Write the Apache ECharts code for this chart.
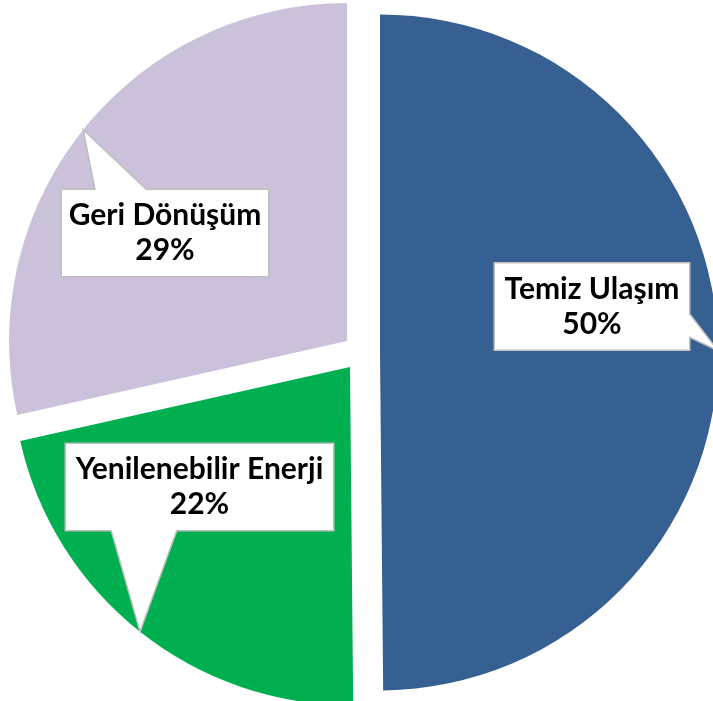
<!DOCTYPE html>
<html>
<head>
<meta charset="utf-8">
<script src="https://cdn.jsdelivr.net/npm/echarts@6/dist/echarts.min.js"></script>
<style>
  html, body { margin: 0; padding: 0; background: #fff; }
  #chart { width: 713px; height: 701px; }
</style>
</head>
<body>
<div id="chart"></div>
<script>
// data
const categories = ['Temiz Ulaşım', 'Yenilenebilir Enerji', 'Geri Dönüşüm']
const values = [50, 21.7, 28.6]
const colors = ['#376092', '#00B050', '#CCC1DA']

// layout
const PIE_CENTER = [361.5, 352.5]
const PIE_R = 338
const EXPLODE = 18.5
// callout boxes: centre, size, side of the pointer and its base (along that side, from centre)
const callouts = [
  { x: 592, y: 306.5, w: 194, h: 87, side: 'right', base: [6.5, 30.5] },
  { x: 199.5, y: 487, w: 267, h: 86, side: 'bottom', base: [-88.5, -22.5] },
  { x: 165, y: 233, w: 206, h: 86, side: 'top', base: [-70, -18] },
]
const BORDER = '#BFBFBF'

const chart = echarts.init(document.getElementById('chart'))

const total = values.reduce((a, b) => a + b, 0)

// each slice is pulled out along its mid angle
const dirs = []
let acc = 0
values.forEach((v) => {
  const mid = ((acc + v / 2) / total) * Math.PI * 2
  acc += v
  dirs.push([Math.sin(mid), -Math.cos(mid)])
})
const sliceCenters = dirs.map((d) => [PIE_CENTER[0] + d[0] * EXPLODE, PIE_CENTER[1] + d[1] * EXPLODE])
// tip of each pointer: outer arc of the slice at its mid angle
const tips = dirs.map((d, i) => [sliceCenters[i][0] + d[0] * PIE_R, sliceCenters[i][1] + d[1] * PIE_R])

const pointerGraphics = []
callouts.forEach((c, i) => {
  let b0, b1, n
  if (c.side === 'right') {
    b0 = [c.x + c.w / 2, c.y + c.base[0]]
    b1 = [c.x + c.w / 2, c.y + c.base[1]]
    n = [-1, 0]
  } else if (c.side === 'bottom') {
    b0 = [c.x + c.base[0], c.y + c.h / 2]
    b1 = [c.x + c.base[1], c.y + c.h / 2]
    n = [0, -1]
  } else {
    b0 = [c.x + c.base[0], c.y - c.h / 2]
    b1 = [c.x + c.base[1], c.y - c.h / 2]
    n = [0, 1]
  }
  const t = tips[i]
  pointerGraphics.push({
    type: 'polygon',
    z: 100,
    silent: true,
    shape: { points: [[b0[0] + n[0] * 3, b0[1] + n[1] * 3], b0, t, b1, [b1[0] + n[0] * 3, b1[1] + n[1] * 3]] },
    style: { fill: '#fff', stroke: null },
  })
  pointerGraphics.push({
    type: 'polyline',
    z: 101,
    silent: true,
    shape: { points: [b0, t, b1] },
    style: { stroke: BORDER, lineWidth: 1.5, fill: null },
  })
})

// one pie series per slice so each can sit at its own exploded centre
const series = categories.map((_, k) => ({
  type: 'pie',
  center: sliceCenters[k],
  radius: PIE_R,
  startAngle: 90,
  clockwise: true,
  avoidLabelOverlap: false,
  emphasis: { disabled: true },
  silent: true,
  itemStyle: { borderWidth: 0 },
  label: {
    position: 'inside',
    formatter: (p) => `${p.name}\n${Math.round(p.percent)}%`,
    fontFamily: 'Lato',
    fontWeight: 'bold',
    fontSize: 30,
    lineHeight: 35,
    color: '#000',
    align: 'center',
    overflow: 'none',
    backgroundColor: '#fff',
    borderColor: BORDER,
    borderWidth: 1.5,
    padding: [8, 10],
  },
  labelLine: { show: false },
  labelLayout: (p) => ({
    x: callouts[p.dataIndex].x,
    y: callouts[p.dataIndex].y,
    align: 'center',
    verticalAlign: 'middle',
  }),
  data: categories.map((name, i) => ({
    name,
    value: values[i],
    itemStyle: { color: i === k ? colors[i] : 'rgba(0,0,0,0)' },
    label: { show: i === k, width: callouts[i].w - 20 },
  })),
}))

const option = {
  animation: false,
  backgroundColor: '#fff',
  graphic: pointerGraphics,
  series,
}

chart.setOption(option)
</script>
</body>
</html>
